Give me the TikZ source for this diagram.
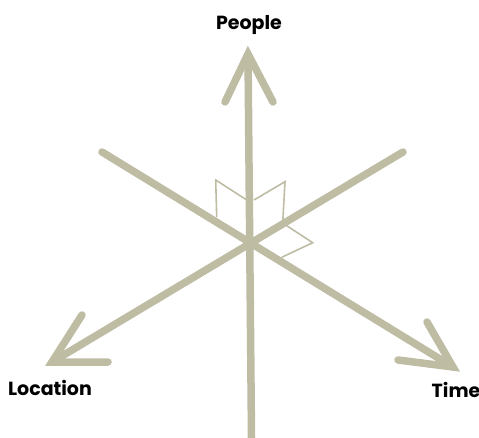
\documentclass[tikz,border=0pt]{standalone}
\usepackage{fontspec}
\setmainfont{Poppins}
\usepackage{xcolor}
\definecolor{axisc}{HTML}{BFBCA4}
\tikzset{
  axis/.style={draw=axisc, line width=7.5pt, line cap=round, line join=miter},
  plane/.style={draw=axisc, line width=1.6pt, line join=miter},
  axislabel/.style={anchor=base, inner sep=0pt, font=\fontsize{19}{21}\selectfont\bfseries},
}

\begin{document}
\begin{tikzpicture}[x=1pt, y=-1pt]
\useasboundingbox (0,0) rectangle (479,438);
% axes
\coordinate (o) at (250,243);
\coordinate (peopletip) at (248,54);
\coordinate (bottom) at (251.5,438);
\coordinate (timetip) at (453,367);
\coordinate (timeend) at (102,152);
\coordinate (loctip) at (52,362);
\coordinate (locend) at (403,152);
\draw[axis, line cap=butt] (bottom) -- (peopletip);
\draw[axis] (timeend) -- (timetip);
\draw[axis] (locend) -- (loctip);
% arrow heads
\draw[axis] (225,102) -- (peopletip) -- (273,102);
\draw[axis] (427,322) -- (timetip) -- (398,360);
\draw[axis] (82,315) -- (loctip) -- (108,362);
% right angle planes
\draw[plane] (216.7,217) -- (215.7,180) -- (246,199.5);
\draw[plane] (254,200) -- (285,181.7) -- (282.7,223);
\draw[plane] (286.7,225.7) -- (312.7,242.7) -- (281.7,257.3);
% labels
\node[axislabel] (people) at (249,30) {People};
\node[axislabel] (location) at (50,395) {Location};
\node[axislabel] (time) at (456,397) {Time};
\end{tikzpicture}
\end{document}
